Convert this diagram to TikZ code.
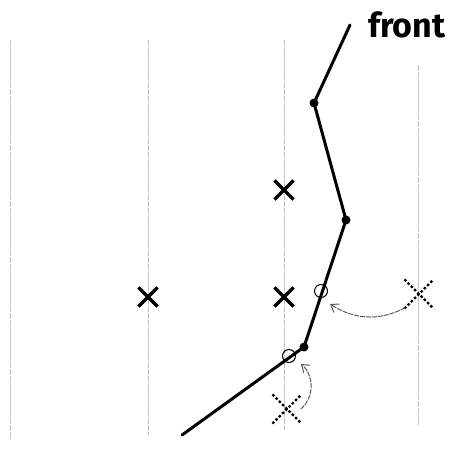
\documentclass[tikz,border=0pt]{standalone}
\usepackage{fontspec}
\setsansfont{Fira Sans}
\usetikzlibrary{shapes.misc, arrows.meta, positioning, calc}

\tikzset{
  gridline/.style={gray!50, line width=0.7pt, dash pattern=on 6pt off 1pt},
  frontline/.style={line width=3pt, line cap=round, line join=round},
  xmark/.style={cross out, draw, line width=3.2pt, minimum size=16pt, inner sep=0pt},
  ghostmark/.style={cross out, draw, line width=3.4pt, minimum size=24pt, inner sep=0pt,
    line cap=round, dash pattern=on 0pt off 4.6pt},
  joint/.style={circle, fill, inner sep=0pt, minimum size=9pt},
  hole/.style={circle, draw, line width=1pt, inner sep=0pt, minimum size=13pt},
  movearrow/.style={gray!70!black, line width=1pt, dash pattern=on 5pt off 1pt,
    -{Straight Barb[length=7pt, width=10pt]}}
}

\begin{document}
\begin{tikzpicture}[x=1pt, y=-1pt]
  \useasboundingbox (0,0) rectangle (462,457);

  % vertical lines
  \draw[gridline] (10,40) -- (10,440);
  \draw[gridline] (148,40) -- (148,435);
  \draw[gridline] (284,40) -- (284,430);
  \draw[gridline] (418,65) -- (418,425);

  % front
  \coordinate (top) at (350,25);
  \coordinate (bottom) at (182,435);
  \node[joint] (j1) at (314,103) {};
  \node[joint] (j2) at (346,220) {};
  \node[joint] (j3) at (304,347) {};
  \draw[frontline] (top) -- (j1.center) -- (j2.center) -- (j3.center) -- (bottom);
  \node[hole] (h1) at (321,291) {};
  \node[hole] (h2) at (289,356) {};
  \node[font=\sffamily\bfseries\fontsize{34}{34}\selectfont, anchor=west, inner sep=0pt] (lbl) at (368,25) {front};

  % crosses
  \node[xmark] (x1) at (284,190) {};
  \node[xmark] (x2) at (148,297) {};
  \node[xmark] (x3) at (284,297) {};

  % moved crosses
  \node[ghostmark] (g1) at (419,294) {};
  \node[ghostmark] (g2) at (287,409) {};
  \coordinate (t1) at ($(h1)+(9,13)$);
  \coordinate (t2) at ($(h2)+(12,8)$);
  \draw[movearrow] (g1.south west) to[bend left=30] (t1);
  \draw[movearrow] (g2.east) to[bend right=50] (t2);
\end{tikzpicture}
\end{document}
